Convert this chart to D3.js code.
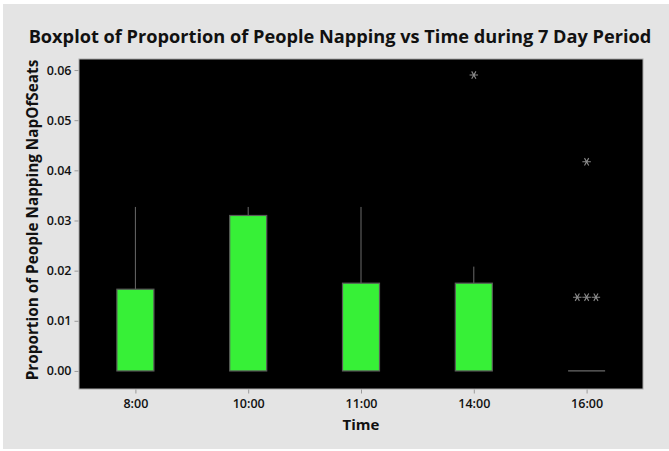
<!DOCTYPE html>
<html>
<head>
<meta charset="utf-8">
<script src="https://cdn.jsdelivr.net/npm/d3@7"></script>
<style>
  html, body { margin: 0; padding: 0; background: #ffffff; }
  svg { display: block; }
</style>
</head>
<body>
<svg id="chart" width="669" height="451"></svg>
<script>
// Nap proportions by time of day over a 7-day period
const times = ["8:00", "10:00", "11:00", "14:00", "16:00"];
const q1 = [0, 0, 0, 0, 0];
const median = [0, 0, 0, 0, 0];
const q3 = [0.0163, 0.0310, 0.0175, 0.0175, 0];
const whiskerLow = [0, 0, 0, 0, 0];
const whiskerHigh = [0.0327, 0.0327, 0.0327, 0.0208, 0];
// outliers: time, value, and side-by-side slot for tied points
const outlierTime = ["14:00", "16:00", "16:00", "16:00", "16:00"];
const outlierValue = [0.0590, 0.0417, 0.0147, 0.0147, 0.0147];
const outlierSlot = [0, 0, -1, 0, 1];
const yTicks = [0, 0.01, 0.02, 0.03, 0.04, 0.05, 0.06];

const svg = d3.select("#chart");
const W = 669, H = 451;
const plot = { left: 79, right: 643, top: 59, bottom: 389 };

// outer panel
svg.append("rect").attr("x", 3).attr("y", 4).attr("width", W - 3).attr("height", H - 6)
  .attr("fill", "#e4e4e4");

const x = d3.scalePoint().domain(times).range([plot.left, plot.right]).padding(0.5);
const y = d3.scaleLinear().domain([-0.0036, 0.0622]).range([plot.bottom, plot.top]);

// data region
svg.append("rect")
  .attr("x", plot.left).attr("y", plot.top)
  .attr("width", plot.right - plot.left).attr("height", plot.bottom - plot.top)
  .attr("fill", "#000000").attr("stroke", "#a8a8a8").attr("stroke-width", 1);

const font = "'Open Sans', 'Noto Sans', sans-serif";

// axes
const yAxis = d3.axisLeft(y).tickValues(yTicks).tickFormat(d3.format(".2f")).tickSize(4).tickPadding(3);
const gy = svg.append("g").attr("transform", `translate(${plot.left - 0.5},0)`).call(yAxis);
const xAxis = d3.axisBottom(x).tickSize(4).tickPadding(6);
const gx = svg.append("g").attr("transform", `translate(0,${plot.bottom + 0.5})`).call(xAxis);
[gy, gx].forEach(g => {
  g.select(".domain").remove();
  g.selectAll(".tick line").attr("stroke", "#9a9a9a");
  g.selectAll(".tick text").attr("fill", "#111").style("font-family", font)
    .style("font-size", "12.5px").style("font-weight", "600");
});

const boxW = 37;
const data = times.map((t, i) => ({ t, q1: q1[i], med: median[i], q3: q3[i], lo: whiskerLow[i], hi: whiskerHigh[i] }));

// whiskers
svg.append("g").selectAll("line").data(data.filter(d => d.hi > d.q3)).join("line")
  .attr("x1", d => x(d.t)).attr("x2", d => x(d.t))
  .attr("y1", d => y(d.q3)).attr("y2", d => y(d.hi))
  .attr("stroke", "#6a6a6a").attr("stroke-width", 1);

// boxes
svg.append("g").selectAll("rect").data(data.filter(d => d.q3 > d.q1)).join("rect")
  .attr("x", d => x(d.t) - boxW / 2).attr("width", boxW)
  .attr("y", d => y(d.q3)).attr("height", d => y(d.q1) - y(d.q3))
  .attr("fill", "#37f037").attr("stroke", "#5a5a5a").attr("stroke-width", 1.2);

// collapsed boxes (Q1 = Q3) drawn as a flat line
svg.append("g").selectAll("line").data(data.filter(d => d.q3 === d.q1)).join("line")
  .attr("x1", d => x(d.t) - boxW / 2).attr("x2", d => x(d.t) + boxW / 2)
  .attr("y1", d => y(d.q1)).attr("y2", d => y(d.q1))
  .attr("stroke", "#6a6a6a").attr("stroke-width", 1.2);

// outliers as asterisks
const star = d3.symbol().type(d3.symbolAsterisk).size(50);
svg.append("g").selectAll("path").data(outlierTime.map((t, i) => ({ t, v: outlierValue[i], s: outlierSlot[i] })))
  .join("path")
  .attr("d", star)
  .attr("transform", d => `translate(${x(d.t) + d.s * 9.3},${y(d.v)}) rotate(90)`)
  .attr("fill", "none").attr("stroke", "#8a8a8a").attr("stroke-width", 1.1);

// title and axis labels
svg.append("text").attr("x", 340).attr("y", 43).attr("text-anchor", "middle")
  .style("font-family", font).style("font-size", "18.2px").style("font-weight", "700")
  .attr("fill", "#111").text("Boxplot of Proportion of People Napping vs Time during 7 Day Period");

svg.append("text").attr("x", x("11:00")).attr("y", 430).attr("text-anchor", "middle")
  .style("font-family", font).style("font-size", "15px").style("font-weight", "700")
  .attr("fill", "#111").text("Time");

svg.append("text").attr("transform", `translate(38,220)rotate(-90)`)
  .attr("text-anchor", "middle")
  .style("font-family", font).style("font-size", "15.3px").style("font-weight", "700")
  .attr("fill", "#111").text("Proportion of People Napping NapOfSeats");
</script>
</body>
</html>
